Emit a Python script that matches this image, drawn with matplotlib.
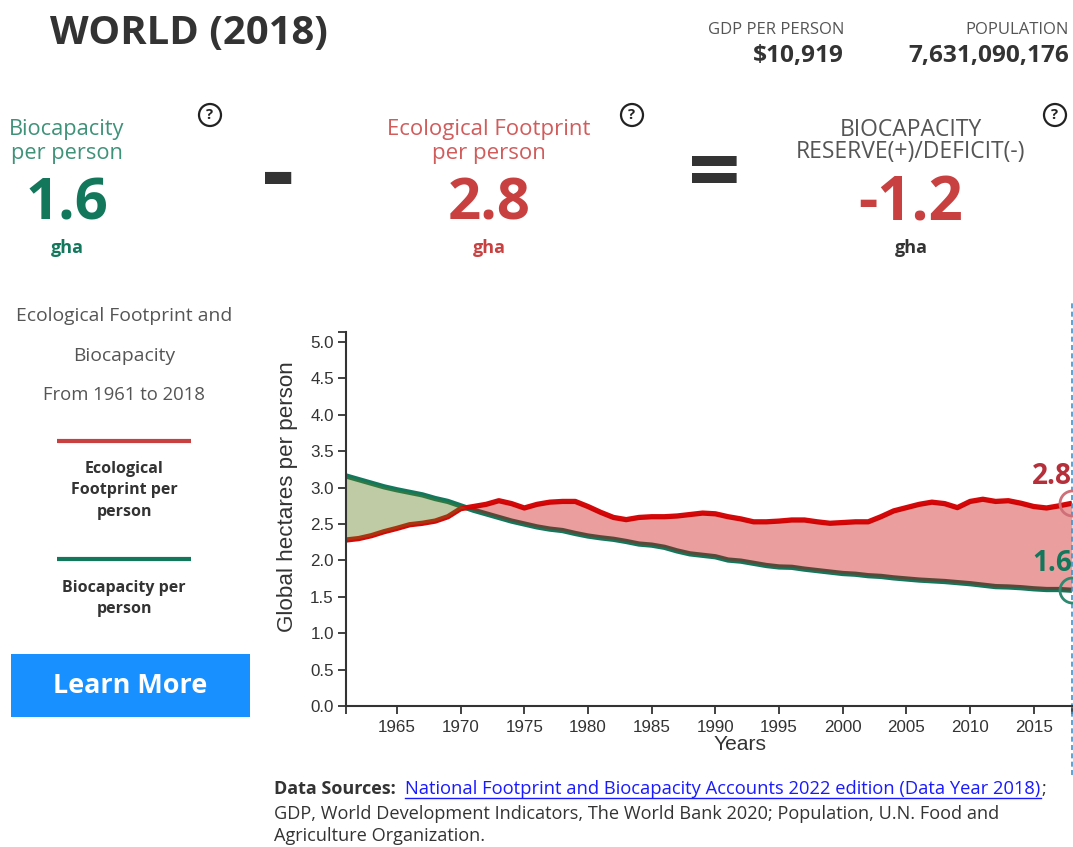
import numpy as np
import matplotlib
matplotlib.use('Agg')
import matplotlib.pyplot as plt
from matplotlib.patches import Circle, Rectangle

# DATA
years = list(range(1961, 2019))
footprint = [2.28, 2.30, 2.34, 2.395, 2.44, 2.49, 2.51, 2.54, 2.60, 2.71,
             2.74, 2.77, 2.82, 2.78, 2.72, 2.77, 2.80, 2.81, 2.81, 2.74,
             2.66, 2.59, 2.56, 2.59, 2.60, 2.60, 2.61, 2.63, 2.65, 2.64,
             2.60, 2.57, 2.53, 2.53, 2.54, 2.555, 2.555, 2.53, 2.51, 2.52,
             2.53, 2.53, 2.60, 2.68, 2.725, 2.77, 2.80, 2.78, 2.725, 2.81,
             2.84, 2.81, 2.82, 2.785, 2.74, 2.72, 2.75, 2.785]
biocapacity = [3.16, 3.11, 3.06, 3.01, 2.97, 2.935, 2.90, 2.85, 2.81, 2.75,
               2.69, 2.64, 2.59, 2.54, 2.50, 2.46, 2.43, 2.41, 2.37, 2.335,
               2.31, 2.29, 2.26, 2.225, 2.21, 2.18, 2.13, 2.09, 2.07, 2.05,
               2.005, 1.99, 1.96, 1.93, 1.91, 1.905, 1.88, 1.86, 1.84, 1.82,
               1.81, 1.79, 1.78, 1.76, 1.745, 1.73, 1.72, 1.71, 1.695, 1.68,
               1.66, 1.64, 1.635, 1.625, 1.61, 1.60, 1.60, 1.59]
y_ticks = [0.0, 0.5, 1.0, 1.5, 2.0, 2.5, 3.0, 3.5, 4.0, 4.5, 5.0]
x_ticks = list(range(1965, 2016, 5))

GREEN = '#13775c'
RED = '#c94040'
DARK = '#333333'
W, H = 1073, 847
PT = 0.72  # css px to points at dpi 100
UI = ['Open Sans', 'DejaVu Sans']
CHART = ['Liberation Sans', 'DejaVu Sans']

fig = plt.figure(figsize=(W / 100, H / 100), dpi=100)

# overlay in pixel coords for the page furniture
page = fig.add_axes([0, 0, 1, 1])
page.set_xlim(0, W)
page.set_ylim(H, 0)
page.axis('off')


def txt(x, y, s, size, color=DARK, weight='normal', ha='center', **kw):
    page.text(x, y, s, fontsize=size * PT, color=color, fontweight=weight,
              ha=ha, va='center', family=UI, **kw)


# HEADER
txt(50, 34, 'WORLD (2018)', 40, weight='bold', ha='left')
txt(844, 30, 'GDP PER PERSON', 16.6, color='#555555', ha='right')
txt(844, 56, '$10,919', 24.4, weight='bold', ha='right')
txt(1069, 30, 'POPULATION', 16.6, color='#555555', ha='right')
txt(1069, 56, '7,631,090,176', 24.4, weight='bold', ha='right')

# BIG NUMBERS
txt(67, 130, 'Biocapacity', 21.8, color='#3d9278')
txt(67, 154, 'per person', 21.8, color='#3d9278')
txt(67, 205, '1.6', 58, color=GREEN, weight='bold')
txt(67, 248, 'gha', 18, color=GREEN, weight='bold')

txt(489, 130, 'Ecological Footprint', 22.3, color='#d25c5c')
txt(489, 154, 'per person', 22.3, color='#d25c5c')
txt(489, 205, '2.8', 58, color=RED, weight='bold')
txt(489, 248, 'gha', 18, color=RED, weight='bold')

txt(911, 130, 'BIOCAPACITY', 22.9, color='#555555')
txt(911, 152, 'RESERVE(+)/DEFICIT(-)', 22.9, color='#555555')
txt(911, 205, '-1.2', 60, color=RED, weight='bold')
txt(911, 248, 'gha', 18, weight='bold')

txt(278, 178, '-', 100, weight='bold')
txt(714, 178, '=', 92, weight='bold')

for qx in [210, 632, 1055]:
    page.add_patch(Circle((qx, 115), 11, fc='white', ec='#222222', lw=1.6))
    txt(qx, 115, '?', 15, color='#222222', weight='bold')

# LEFT PANEL
txt(124, 316, 'Ecological Footprint and', 19.3, color='#555555')
txt(124, 356, 'Biocapacity', 19.3, color='#555555')
txt(124, 395, 'From 1961 to 2018', 18.5, color='#555555')
page.plot([57, 191], [441, 441], color=RED, lw=3, solid_capstyle='butt')
txt(124, 469, 'Ecological', 16, weight='bold')
txt(124, 490, 'Footprint per', 16, weight='bold')
txt(124, 512, 'person', 16, weight='bold')
page.plot([57, 191], [559, 559], color=GREEN, lw=3, solid_capstyle='butt')
txt(124, 588, 'Biocapacity per', 16, weight='bold')
txt(124, 609, 'person', 16, weight='bold')
page.add_patch(Rectangle((11, 654), 239, 63, fc='#1890ff', ec='none'))
txt(130, 686, 'Learn More', 27, color='white', weight='bold')

# DATA SOURCES
txt(274, 789, 'Data Sources:', 18, weight='bold', ha='left')
txt(405, 789, 'National Footprint and Biocapacity Accounts 2022 edition (Data Year 2018)',
    18.4, color='#1a1aff', ha='left')
page.plot([405, 1041], [798, 798], color='#1a1aff', lw=1)
txt(1041, 789, ';', 18, ha='left')
txt(274, 814, 'GDP, World Development Indicators, The World Bank 2020; Population, U.N. Food and',
    18.2, ha='left')
txt(274, 836, 'Agriculture Organization.', 18.2, ha='left')

# CHART
x0, x1, y_top, y_bot = 346, 1072, 332, 706
ax = fig.add_axes([x0 / W, 1 - y_bot / H, (x1 - x0) / W, (y_bot - y_top) / H])
ax.patch.set_alpha(0)
ax.set_xlim(1961, 2018)
ax.set_ylim(0, (y_bot - y_top) / 72.8)

yrs = np.array(years)
fp = np.array(footprint)
bc = np.array(biocapacity)
# lines go under the see-through fills so they pick up the brown edge
ax.plot(yrs, bc, color=GREEN, lw=3.8, solid_capstyle='butt', zorder=1)
ax.plot(yrs, fp, color='#d40808', lw=3.8, solid_capstyle='butt', zorder=1)
ax.fill_between(yrs, fp, bc, where=bc >= fp, interpolate=True, color='#5f7d1e', alpha=0.4, lw=0, zorder=2)
ax.fill_between(yrs, fp, bc, where=fp >= bc, interpolate=True, color='#cc0000', alpha=0.38, lw=0, zorder=2)

# end circles, cut off by the page edge
ax.plot(years[-1], footprint[-1], 'o', ms=18, mfc='none', mec='#cf6f78', mew=2, clip_on=False, zorder=3)
ax.plot(years[-1], biocapacity[-1], 'o', ms=18, mfc='none', mec='#2d8a70', mew=2, clip_on=False, zorder=3)
ax.annotate('2.8', (years[-1], footprint[-1]), xytext=(0, 27), textcoords='offset pixels',
            ha='right', va='center', fontsize=28 * PT, color='#b5303a', fontweight='bold',
            family=UI, annotation_clip=False)
ax.annotate('1.6', (years[-1], biocapacity[-1]), xytext=(0, 27), textcoords='offset pixels',
            ha='right', va='center', fontsize=28 * PT, color=GREEN, fontweight='bold',
            family=UI, annotation_clip=False)

# dashed marker line for the last year
ax.plot([years[-1], years[-1]], [-0.95, 5.58], color='#3f94cf', lw=1.2, ls=(0, (3, 2)), clip_on=False)

ax.spines['top'].set_visible(False)
ax.spines['right'].set_visible(False)
for side in ['left', 'bottom']:
    ax.spines[side].set_color(DARK)
    ax.spines[side].set_linewidth(1.5)

ax.set_xticks(x_ticks)
ax.set_yticks(y_ticks)
ax.set_yticklabels([f'{v:.1f}' for v in y_ticks])
ax.set_xticks([1961, 2018], minor=True)
ax.set_yticks([ax.get_ylim()[1]], minor=True)
ax.tick_params(axis='both', which='both', color=DARK, width=1.3, length=8 * PT,
               labelcolor=DARK, labelsize=17 * PT)
ax.tick_params(axis='x', which='major', pad=4)
ax.tick_params(axis='y', which='major', pad=3)
for lab in ax.get_xticklabels() + ax.get_yticklabels():
    lab.set_family(CHART)

page.text(740, 745, 'Years', fontsize=21 * PT, color=DARK, ha='center', va='center', family=CHART)
page.text(287, 497, 'Global hectares per person', fontsize=22.4 * PT, color=DARK, ha='center',
          va='center', rotation=90, family=CHART)

fig.savefig('out.png', dpi=100)
